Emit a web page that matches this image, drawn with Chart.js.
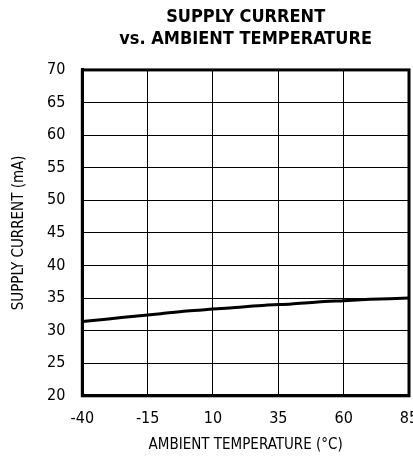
<!DOCTYPE html>
<html>
<head>
<meta charset="utf-8">
<script src="https://cdn.jsdelivr.net/npm/chart.js@4"></script>
<style>
  html, body { margin: 0; padding: 0; background: #fff; }
  #chart { display: block; }
</style>
</head>
<body>
<canvas id="chart" width="413" height="456"></canvas>
<script>
// Data
const temperatures = [-40, -30, -20, -10, 0, 10, 20, 30, 40, 50, 60, 70, 85];
const supplyCurrent = [31.4, 31.8, 32.2, 32.6, 33.0, 33.3, 33.6, 33.9, 34.1, 34.4, 34.6, 34.8, 35.0];
const xTicks = [-40, -15, 10, 35, 60, 85];
const yTicks = [20, 25, 30, 35, 40, 45, 50, 55, 60, 65, 70];

const narrow = "'DejaVu Sans Condensed', 'Liberation Sans Narrow', 'Liberation Sans', sans-serif";

new Chart(document.getElementById('chart'), {
    type: 'line',
    data: {
        datasets: [{
            data: temperatures.map((t, i) => ({ x: t, y: supplyCurrent[i] })),
            borderColor: '#000',
            borderWidth: 3,
            pointRadius: 0,
            tension: 0.3,
            fill: false
        }]
    },
    options: {
        responsive: false,
        animation: false,
        layout: { padding: { left: 4, right: 4, top: 6, bottom: 0 } },
        plugins: {
            legend: { display: false },
            tooltip: { enabled: false },
            title: {
                display: true,
                fullSize: false,
                text: ['SUPPLY CURRENT', 'vs. AMBIENT TEMPERATURE'],
                color: '#000',
                font: { family: narrow, size: 18, weight: 'bold', lineHeight: 1.22 },
                padding: { top: 0, bottom: 20 }
            }
        },
        scales: {
            x: {
                type: 'linear',
                min: -40,
                max: 85,
                afterBuildTicks: scale => { scale.ticks = xTicks.map(v => ({ value: v })); },
                afterFit: scale => { scale.paddingRight = 0; },
                grid: { color: '#000', lineWidth: 1, drawTicks: false },
                border: { color: '#000', width: 3 },
                ticks: {
                    color: '#000',
                    font: { family: narrow, size: 16 },
                    padding: 13,
                    maxRotation: 0
                },
                title: {
                    display: true,
                    text: 'AMBIENT TEMPERATURE (°C)',
                    color: '#000',
                    font: { family: narrow, size: 15 },
                    padding: { top: -5, bottom: 2 }
                }
            },
            y: {
                min: 20,
                max: 70,
                afterBuildTicks: scale => { scale.ticks = yTicks.map(v => ({ value: v })); },
                grid: { color: '#000', lineWidth: 1, drawTicks: false },
                border: { color: '#000', width: 3 },
                ticks: {
                    color: '#000',
                    font: { family: narrow, size: 16 },
                    padding: 17
                },
                title: {
                    display: true,
                    text: 'SUPPLY CURRENT (mA)',
                    color: '#000',
                    font: { family: narrow, size: 15 },
                    padding: { top: 6, bottom: 2 }
                }
            }
        }
    },
    plugins: [{
        // thick frame around the plot area
        id: 'frame',
        afterDraw(chart) {
            const { ctx, chartArea: a } = chart;
            ctx.save();
            ctx.strokeStyle = '#000';
            ctx.lineWidth = 3;
            ctx.strokeRect(a.left, a.top, a.right - a.left, a.bottom - a.top);
            ctx.restore();
        }
    }]
});
</script>
</body>
</html>
